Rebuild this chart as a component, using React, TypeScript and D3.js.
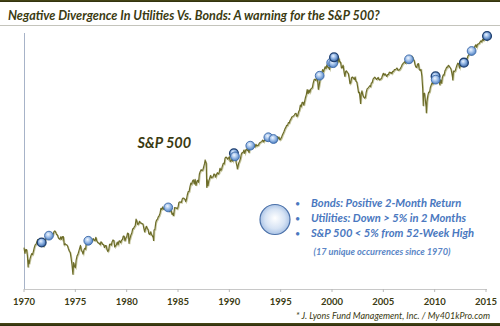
import React from "react";
import * as d3 from "d3";

// Monthly S&P 500 closes (read approximately), one array per decade
const sp1970s = [
  85.0, 89.5, 89.6, 81.5, 76.6, 72.7, 78.1, 81.5, 84.3, 83.3, 87.2, 92.15,
  95.9, 96.75, 100.3, 103.9, 99.6, 99.7, 95.6, 99.0, 98.3, 94.2, 93.99, 102.1,
  103.9, 106.6, 107.2, 107.7, 109.5, 107.1, 107.4, 111.1, 110.6, 111.6, 116.7, 118.05,
  116.0, 111.7, 111.5, 106.97, 104.95, 104.26, 108.2, 104.25, 108.4, 108.3, 95.96, 97.55,
  96.6, 96.2, 93.98, 90.3, 87.3, 86.0, 79.3, 72.15, 63.54, 73.9, 69.97, 68.56,
  76.98, 81.59, 83.36, 87.3, 91.15, 95.19, 88.75, 86.88, 83.87, 89.04, 91.24, 90.19,
  100.86, 99.71, 102.77, 101.64, 100.18, 104.28, 103.44, 102.91, 105.24, 102.9, 102.1, 107.46,
  102.03, 99.82, 98.42, 98.44, 96.12, 100.48, 98.85, 96.77, 96.53, 92.34, 94.83, 95.1,
  89.25, 87.04, 89.21, 96.83, 97.24, 95.53, 100.68, 103.29, 102.54, 93.15, 94.7, 96.11,
  99.93, 96.28, 101.59, 101.76, 99.08, 102.91, 103.81, 109.32, 109.32, 101.82, 106.16, 107.94,
];
const sp1980s = [
  114.16, 113.66, 102.09, 106.29, 111.24, 114.24, 121.67, 122.38, 125.46, 127.47, 140.52, 135.76,
  129.55, 131.27, 136.0, 132.81, 132.59, 131.21, 130.92, 122.79, 116.18, 121.89, 126.35, 122.55,
  120.4, 113.11, 111.96, 116.44, 111.88, 109.61, 107.09, 119.51, 120.42, 133.71, 138.54, 140.64,
  145.3, 148.06, 152.96, 164.42, 162.39, 168.11, 162.56, 164.4, 166.07, 163.55, 166.4, 164.93,
  163.41, 157.06, 159.18, 160.05, 150.55, 153.18, 150.66, 166.68, 166.1, 166.09, 163.58, 167.24,
  179.63, 181.18, 180.66, 179.83, 189.55, 191.85, 190.92, 188.63, 182.08, 189.82, 202.17, 211.28,
  211.78, 226.92, 238.9, 235.52, 247.35, 250.84, 236.12, 252.93, 231.32, 243.98, 249.22, 242.17,
  274.08, 284.2, 291.7, 288.36, 290.1, 304.0, 318.66, 329.8, 321.83, 251.79, 230.3, 247.08,
  257.07, 267.82, 258.89, 261.33, 262.16, 273.5, 272.02, 261.52, 271.91, 278.97, 273.7, 277.72,
  297.47, 288.86, 294.87, 309.64, 320.52, 317.98, 346.08, 351.45, 349.15, 340.36, 345.99, 353.4,
];
const sp1990s = [
  329.08, 331.89, 339.94, 330.8, 361.23, 358.02, 356.15, 322.56, 306.05, 304.0, 322.22, 330.22,
  343.93, 367.07, 375.22, 375.35, 389.83, 371.16, 387.81, 395.43, 387.86, 392.45, 375.22, 417.09,
  408.79, 412.7, 403.69, 414.95, 415.35, 408.14, 424.21, 414.03, 417.8, 418.68, 431.35, 435.71,
  438.78, 443.38, 451.67, 440.19, 450.19, 450.53, 448.13, 463.56, 458.93, 467.83, 461.79, 466.45,
  481.61, 467.14, 445.77, 450.91, 456.5, 444.27, 458.26, 475.49, 462.69, 472.35, 453.69, 459.27,
  470.42, 487.39, 500.71, 514.71, 533.4, 544.75, 562.06, 561.88, 584.41, 581.5, 605.37, 615.93,
  636.02, 640.43, 645.5, 654.17, 669.12, 670.63, 639.95, 651.99, 687.31, 705.27, 757.02, 740.74,
  786.16, 790.82, 757.12, 801.34, 848.28, 885.14, 954.29, 899.47, 947.28, 914.62, 955.4, 970.43,
  980.28, 1049.34, 1101.75, 1111.75, 1090.82, 1133.84, 1120.67, 957.28, 1017.01, 1098.67, 1163.63, 1229.23,
  1279.64, 1238.33, 1286.37, 1335.18, 1301.84, 1372.71, 1328.72, 1320.41, 1282.71, 1362.93, 1388.91, 1469.25,
];
const sp2000s = [
  1394.46, 1366.42, 1498.58, 1452.43, 1420.6, 1454.6, 1430.83, 1517.68, 1436.51, 1429.4, 1314.95, 1320.28,
  1366.01, 1239.94, 1160.33, 1249.46, 1255.82, 1224.38, 1211.23, 1133.58, 1040.94, 1059.78, 1139.45, 1148.08,
  1130.2, 1106.73, 1147.39, 1076.92, 1067.14, 989.82, 911.62, 916.07, 815.28, 885.76, 936.31, 879.82,
  855.7, 841.15, 848.18, 916.92, 963.59, 974.5, 990.31, 1008.01, 995.97, 1050.71, 1058.2, 1111.92,
  1131.13, 1144.94, 1126.21, 1107.3, 1120.68, 1140.84, 1101.72, 1104.24, 1114.58, 1130.2, 1173.82, 1211.92,
  1181.27, 1203.6, 1180.59, 1156.85, 1191.5, 1191.33, 1234.18, 1220.33, 1228.81, 1207.01, 1249.48, 1248.29,
  1280.08, 1280.66, 1294.87, 1310.61, 1270.09, 1270.2, 1276.66, 1303.82, 1335.85, 1377.94, 1400.63, 1418.3,
  1438.24, 1406.82, 1420.86, 1482.37, 1530.62, 1503.35, 1455.27, 1473.99, 1526.75, 1549.38, 1481.14, 1468.36,
  1378.55, 1330.63, 1322.7, 1385.59, 1400.38, 1280.0, 1267.38, 1282.83, 1166.36, 968.75, 896.24, 903.25,
  825.88, 735.09, 797.87, 872.81, 919.14, 919.32, 987.48, 1020.62, 1057.08, 1036.19, 1095.63, 1115.1,
];
const sp2010s = [
  1073.87, 1104.49, 1169.43, 1186.69, 1089.41, 1030.71, 1101.6, 1049.33, 1141.2, 1183.26, 1180.55, 1257.64,
  1286.12, 1327.22, 1325.83, 1363.61, 1345.2, 1320.64, 1292.28, 1218.89, 1131.42, 1253.3, 1246.96, 1257.6,
  1312.41, 1365.68, 1408.47, 1397.91, 1310.33, 1362.16, 1379.32, 1406.58, 1440.67, 1412.16, 1416.18, 1426.19,
  1498.11, 1514.68, 1569.19, 1597.57, 1630.74, 1606.28, 1685.73, 1632.97, 1681.55, 1756.54, 1805.81, 1848.36,
  1782.59, 1859.45, 1872.34, 1883.95, 1923.57, 1960.23, 1930.67, 2003.37, 1972.29, 2018.05, 2067.56, 2058.9,
  1994.99, 2104.5, 2067.89,
];
// Intra-month extremes [year fraction, value]
const extremes: [number, number][] = [
  [1970.0, 92.06], [1970.4, 69.29], [1974.76, 62.28], [1980.23, 98.22],
  [1982.62, 102.42], [1984.57, 147.82], [1987.65, 336.77], [1987.8, 224.84],
  [1990.78, 295.46], [2000.22, 1527.46], [2002.78, 776.76], [2007.78, 1565.15],
  [2008.89, 752.44], [2009.19, 676.53], [2010.5, 1022.58], [2011.76, 1099.23],
];
// Signal occurrences [year fraction, S&P value, overlapping count]
const signals: [number, number, number][] = [
  [1971.72, 99.5, 2], [1972.43, 110, 1], [1976.26, 102, 1], [1984.05, 167, 1],
  [1990.45, 372, 2], [1990.55, 355, 1], [1992.04, 416, 1], [1993.8, 471, 1],
  [1994.3, 459, 1], [1998.8, 1170, 1], [1999.92, 1419, 1], [2000.12, 1408, 1],
  [2000.2, 1536, 2], [2007.5, 1491, 1], [2010.09, 1159, 2], [2010.1, 1104, 1],
  [2012.85, 1419, 2], [2013.6, 1686, 1], [2015.1, 2105, 2],
];
const xTicks = [1970, 1975, 1980, 1985, 1990, 1995, 2000, 2005, 2010, 2015];
const legendLines = [
  "Bonds: Positive 2-Month Return",
  "Utilities: Down > 5% in 2 Months",
  "S&P 500 < 5% from 52-Week High",
];
const titleText = "Negative Divergence In Utilities Vs. Bonds: A warning for the S&P 500?";
const noteText = "(17 unique occurrences since 1970)";
const creditText = "* J. Lyons Fund Management, Inc. / My401kPro.com";
const seriesLabel = "S&P 500";

const W = 500;
const H = 326;
const FONT = "Lato, 'Open Sans', sans-serif";

export default function App() {
  const monthly: [number, number][] = [];
  [sp1970s, sp1980s, sp1990s, sp2000s, sp2010s].forEach((arr, d) => {
    arr.forEach((v, i) => {
      monthly.push([1970 + d * 10 + (i + 1) / 12, v]);
    });
  });
  const data = [...monthly, ...extremes].sort((a, b) => a[0] - b[0]);

  const x = d3.scaleLinear().domain([1970, 2015]).range([24, 486]);
  const y = d3.scaleLog().domain([50, 2200]).range([289, 33]);
  const line = d3
    .line<[number, number]>()
    .x((d) => x(d[0]))
    .y((d) => y(d[1]));
  const path = line(data) || "";

  const olive = "#3b3b12";

  return (
    <svg
      width={W}
      height={H}
      style={{ position: "absolute", left: 0, top: 0, display: "block" }}
      fontFamily={FONT}
    >
      <defs>
        <radialGradient id="dot" cx="0.45" cy="0.4" r="0.6" fx="0.4" fy="0.35">
          <stop offset="0" stopColor="#f3f8ff" />
          <stop offset="0.45" stopColor="#a9c6ec" />
          <stop offset="1" stopColor="#4d7fc2" />
        </radialGradient>
        <radialGradient id="dotDark" cx="0.45" cy="0.4" r="0.6" fx="0.4" fy="0.35">
          <stop offset="0" stopColor="#eef5ff" />
          <stop offset="0.45" stopColor="#95b8e6" />
          <stop offset="1" stopColor="#3563a3" />
        </radialGradient>
        <radialGradient id="big" cx="0.5" cy="0.5" r="0.55" fx="0.5" fy="0.45">
          <stop offset="0" stopColor="#ffffff" />
          <stop offset="0.6" stopColor="#d6e3f4" />
          <stop offset="1" stopColor="#9fbbe2" />
        </radialGradient>
        <linearGradient id="bar" x1="0" y1="0" x2="0" y2="1">
          <stop offset="0" stopColor="#4a4a18" />
          <stop offset="1" stopColor="#2c2c0c" />
        </linearGradient>
      </defs>
      <rect x={0} y={0} width={W} height={H} fill="#ffffff" />
      <rect x={0} y={0} width={W} height={2} fill="url(#bar)" />
      <text x={8} y={19.5} fontSize={12.6} fontWeight="bold" fontStyle="italic" fill={olive}>
        {titleText}
      </text>
      <line x1={0} x2={W} y1={25.5} y2={25.5} stroke="#c4c4bc" strokeWidth={1} />

      {/* axes */}
      <line x1={24.5} x2={24.5} y1={33} y2={289} stroke="#a7b3c8" strokeWidth={1} />
      <line x1={24} x2={487} y1={289.5} y2={289.5} stroke="#c8c8c8" strokeWidth={1} />
      {xTicks.map((t) => (
        <g key={t}>
          <line x1={x(t)} x2={x(t)} y1={289} y2={292} stroke="#b8b8b8" />
          <text x={x(t)} y={304.5} fontSize={9.5} fontWeight="bold" textAnchor="middle" fill={olive}>
            {t}
          </text>
        </g>
      ))}

      {/* series */}
      <path d={path} fill="none" stroke="#c9c9a4" strokeWidth={1.2} transform="translate(0.8,0.8)" />
      <path d={path} fill="none" stroke="#6c6c28" strokeWidth={1.2} strokeLinejoin="round" />

      {signals.map(([t, v, c], i) => (
        <circle
          key={i}
          cx={x(t)}
          cy={y(v)}
          r={4.4}
          fill={c > 1 ? "url(#dotDark)" : "url(#dot)"}
          stroke={c > 1 ? "#1e3f70" : "#3d6aa8"}
          strokeWidth={c > 1 ? 1.3 : 0.9}
        />
      ))}

      <text x={137.5} y={148} fontSize={14.5} fontWeight="bold" fontStyle="italic" fill={olive}>
        {seriesLabel}
      </text>

      {/* legend */}
      <circle cx={275} cy={219.5} r={15} fill="url(#big)" stroke="#4a70a8" strokeWidth={1.2} />
      {legendLines.map((s, i) => (
        <g key={s}>
          <text x={297.5} y={206.5 + i * 15} fontSize={9} fill="#4a78c0" textAnchor="middle">
            •
          </text>
          <text x={311} y={207 + i * 15} fontSize={11.2} fontWeight="bold" fontStyle="italic" fill="#4a78c0">
            {s}
          </text>
        </g>
      ))}
      <text x={313.5} y={254.5} fontSize={9.2} fontWeight="bold" fontStyle="italic" fill="#5a86c6">
        {noteText}
      </text>

      <text x={490} y={318.5} fontSize={9} fontStyle="italic" fill={olive} textAnchor="end">
        {creditText}
      </text>
      <rect x={0} y={323} width={W} height={3} fill="url(#bar)" />
    </svg>
  );
}
